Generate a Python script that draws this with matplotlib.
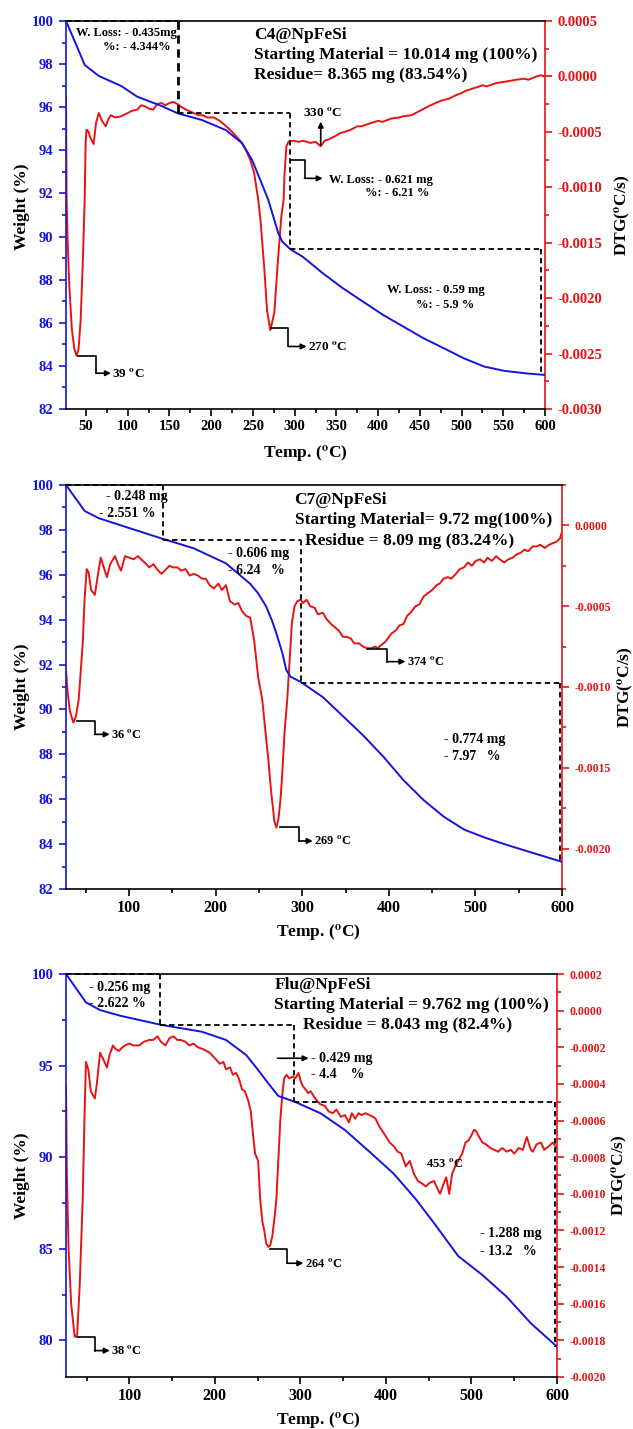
import matplotlib
matplotlib.use('Agg')
import matplotlib.pyplot as plt
from matplotlib.ticker import MultipleLocator, FuncFormatter

plt.rcParams['font.family'] = ['Liberation Serif', 'DejaVu Serif']
plt.rcParams['font.weight'] = 'bold'
plt.rcParams['axes.labelweight'] = 'bold'
plt.rcParams['mathtext.fontset'] = 'stix'

BLUE = '#1414dc'
RED = '#e61414'
DEG = '$^{\\mathbf{o}}$'

# ---- C4@NpFeSi ----
c4_temp = [26, 38.7, 48.4, 65.3, 91.9, 111.3, 140.3, 159.6, 188.6, 217.6, 236.9, 249.0,
           258.7, 268.4, 275.6, 280.4, 285.3, 294.9, 309.4, 333.6, 357.8, 381.9, 406.1,
           430.3, 454.5, 478.6, 502.8, 526.9, 551.1, 575.3, 599.5]
c4_weight = [100.0, 98.85, 97.96, 97.45, 96.99, 96.49, 96.06, 95.72, 95.41, 94.94, 94.33, 93.55,
             92.63, 91.7, 90.77, 90.15, 89.76, 89.41, 89.07, 88.3, 87.6, 86.98, 86.36,
             85.82, 85.28, 84.82, 84.35, 83.97, 83.77, 83.66, 83.58]
c4_dtg_temp = [26, 26.7, 28, 30, 33, 36, 38.7, 41, 43.5, 46, 48.4, 49.5, 50.5, 53, 55, 59, 62,
               65.3, 69, 73.6, 77, 79.8, 85, 91.9, 100, 105, 111.3, 116, 120.9, 125, 130.6,
               135, 140.3, 145, 150, 154.8, 159.6, 165, 170, 178.9, 185, 190, 195, 203.1, 210,
               215, 222.4, 230, 236.9, 242, 246.6, 251.4, 256.3, 258.7, 263.5, 266.9, 270.8,
               275.6, 279.4, 283.9, 286.8, 287.7, 290.1, 292.5, 298, 304.6, 310, 319.1, 325,
               331.2, 336, 340, 348.1, 355, 360, 367.5, 375, 380, 391.6, 400, 405, 415.8, 425,
               430, 440, 450, 460, 469, 475, 485, 493.1, 500, 505, 517.3, 525, 530, 541.5, 550,
               565.6, 575, 580, 589.8, 595, 599.5]
c4_dtg = [-0.00018, -0.0011, -0.0015, -0.0019, -0.00228, -0.00246, -0.00252, -0.00246, -0.0022,
          -0.0017, -0.0011, -0.0006, -0.00048, -0.0005, -0.00055, -0.00061, -0.00042,
          -0.00033, -0.0004, -0.00045, -0.00038, -0.00035, -0.00037, -0.00036, -0.00033,
          -0.00031, -0.0003, -0.00026, -0.00027, -0.00029, -0.0003, -0.00025, -0.00024,
          -0.00026, -0.00024, -0.00023, -0.00025, -0.00028, -0.0003, -0.00033, -0.00035,
          -0.00035, -0.00037, -0.00037, -0.0004, -0.00043, -0.00048, -0.00054, -0.0006,
          -0.00067, -0.00075, -0.00087, -0.00111, -0.00127, -0.00172, -0.00211, -0.00229,
          -0.00213, -0.00172, -0.00127, -0.00111, -0.0009, -0.00063, -0.00059, -0.00058,
          -0.00059, -0.00058, -0.0006, -0.00059, -0.00063, -0.00058, -0.00057, -0.00054,
          -0.00051, -0.0005, -0.00048, -0.00045, -0.00045, -0.00042, -0.0004, -0.00041,
          -0.00038, -0.00037, -0.00036, -0.00035, -0.00031, -0.00027, -0.00024, -0.00022,
          -0.0002, -0.00017, -0.00015, -0.00013, -0.0001, -0.00008, -0.00009, -0.00006,
          -0.00005, -0.00003, -0.00002, -0.00003, 0.0, 0.00001, 0.0]
c4_steps_temp = [26, 159.6, 294.9, 594.6]
c4_steps_weight = [100.0, 95.72, 89.41, 83.58]

# ---- C7@NpFeSi ----
c7_temp = [27, 48.6, 64.9, 90.5, 137.2, 174.5, 211.7, 239.7, 249.0, 258.3, 265, 270, 277,
           281.4, 286.3, 297.9, 323.6, 346.9, 370.1, 393.5, 416.8, 440.1, 463.4, 486.7,
           510.0, 533.3, 556.6, 600]
c7_weight = [100.0, 98.84, 98.52, 98.2, 97.62, 97.18, 96.51, 95.6, 95.17, 94.58, 93.95, 93.39,
             92.5, 91.76, 91.46, 91.23, 90.55, 89.7, 88.85, 87.9, 86.85, 85.96, 85.22, 84.65,
             84.3, 84.0, 83.72, 83.21]
c7_dtg_temp = [27, 29, 31.5, 35.5, 38.5, 41.6, 44, 46.3, 48.5, 50.9, 53, 56, 60.3, 64, 67.2, 70,
               74.3, 78, 83.6, 87, 90.5, 95.2, 100, 105, 110, 113.9, 118, 123.2, 128, 132,
               137.2, 141, 146.5, 151, 155.8, 160, 165, 169.8, 174.5, 179.2, 184, 188.4, 193,
               197.8, 203, 207, 211.7, 216.4, 222, 226, 230.3, 235, 239.7, 244.3, 249, 253.7,
               258.3, 260.7, 264, 267.7, 270, 272.3, 274.7, 277, 279.3, 282.5, 285.3, 288, 291,
               294, 297.9, 301, 305, 309, 314.2, 318, 323.6, 328, 333, 337.5, 342, 346.9,
               351.5, 356, 360, 365.5, 370.1, 374.8, 379.5, 384, 387, 391.1, 396, 402.8, 408,
               412, 416.8, 421, 425, 430.8, 435, 440.1, 444.8, 450, 455, 458.7, 463, 468, 472,
               477.3, 482, 486.7, 491.3, 496, 500, 505.3, 510, 514, 519, 524, 528, 533.3, 538,
               543, 547.2, 552, 556.6, 561, 566, 570.6, 575, 580, 585, 589.2, 594, 597.6, 600]
c7_dtg = [-0.0009, -0.00104, -0.00115, -0.00122, -0.00118, -0.00108, -0.0009, -0.00073,
          -0.00045, -0.00027, -0.00029, -0.0004, -0.00043, -0.0003, -0.0002, -0.00025,
          -0.00032, -0.00024, -0.00019, -0.00024, -0.00028, -0.00019, -0.0002, -0.00021,
          -0.00019, -0.00021, -0.00023, -0.00026, -0.00024, -0.00027, -0.0003, -0.00028,
          -0.00025, -0.00026, -0.00026, -0.00028, -0.00027, -0.00031, -0.0003, -0.00031,
          -0.00033, -0.00033, -0.00037, -0.00039, -0.00036, -0.0004, -0.00037, -0.00047,
          -0.00049, -0.00048, -0.00053, -0.00056, -0.00057, -0.00071, -0.00094, -0.00108,
          -0.00132, -0.00145, -0.00165, -0.00183, -0.00187, -0.00182, -0.0017, -0.00152,
          -0.00129, -0.00108, -0.00083, -0.0006, -0.0005, -0.00047, -0.00046, -0.00048,
          -0.00046, -0.0005, -0.00051, -0.00055, -0.00054, -0.00058, -0.00061, -0.00063,
          -0.00065, -0.00069, -0.00069, -0.0007, -0.00073, -0.00073, -0.00075, -0.00076,
          -0.00076, -0.00075, -0.00076, -0.00074, -0.00072, -0.00067, -0.00065, -0.00062,
          -0.00061, -0.00056, -0.00054, -0.0005, -0.00049, -0.00044, -0.00042, -0.0004,
          -0.00037, -0.00036, -0.00033, -0.00032, -0.00033, -0.0003, -0.00027, -0.00026,
          -0.00023, -0.00025, -0.00022, -0.00021, -0.00023, -0.0002, -0.00022, -0.00019,
          -0.00021, -0.00023, -0.00021, -0.0002, -0.00018, -0.00017, -0.00015, -0.00016,
          -0.00013, -0.00013, -0.00012, -0.00014, -0.00012, -0.00011, -0.0001, -0.00008,
          -0.00004]
c7_steps_temp = [27, 139.5, 297.9, 597.6]
c7_steps_weight = [100.0, 97.55, 91.2, 83.21]

# ---- Flu@NpFeSi ----
flu_temp = [26, 49.3, 65.8, 90.4, 137.6, 184.7, 213.0, 236.5, 250.6, 262.4, 274.2, 293.2,
            323.8, 352.1, 380.7, 409.0, 435.0, 456.2, 484.5, 512.7, 541.1, 569.4, 600]
flu_weight = [100.0, 98.45, 98.03, 97.71, 97.22, 96.85, 96.4, 95.58, 94.76, 94.03, 93.34,
              93.03, 92.39, 91.48, 90.3, 89.1, 87.7, 86.4, 84.6, 83.57, 82.38, 80.93, 79.65]
flu_dtg_temp = [26, 27, 29, 32, 36.1, 39, 42, 45.5, 47.5, 49.3, 52, 55, 59.7, 62, 65.8, 69,
                73.8, 77, 80.9, 84, 88, 92, 95, 99.8, 105, 111.6, 117, 123.4, 128, 132.8, 137,
                142.2, 147, 151.7, 156, 160, 165.8, 170, 175, 180, 186, 190, 194.1, 198, 202,
                205.9, 210, 213, 217.7, 221, 224.7, 228, 231.8, 235, 238.9, 242, 244.9, 247,
                250.6, 253, 255.5, 257.7, 260, 262.4, 264.8, 267.2, 270, 271.9, 274.2, 276.5,
                279, 281, 283.7, 287, 290.8, 294, 297.8, 300, 302.5, 306, 309, 312, 316, 319.1,
                323, 328.5, 333, 337.9, 342, 347.4, 352, 356.8, 360, 364, 368, 371.2, 376,
                380.7, 385, 387.8, 392, 394.8, 399, 404.3, 409, 413.7, 418, 423.1, 427.9,
                432.6, 437.3, 441, 446.7, 451, 456.2, 460, 463.2, 467, 470.4, 474, 477.4, 481,
                484.5, 489.2, 493, 496.3, 500, 503, 505.7, 509, 512.7, 517, 522, 526.9, 531,
                536, 541.1, 546, 550, 555.2, 560, 564.6, 569.4, 571.7, 576, 581.2, 585, 590.5,
                595, 600]
flu_dtg = [-0.00041, -0.0009, -0.0013, -0.0016, -0.00178, -0.00177, -0.0015, -0.00103,
           -0.0006, -0.00028, -0.00032, -0.00044, -0.00048, -0.0004, -0.00023, -0.00026,
           -0.00031, -0.00024, -0.00019, -0.00021, -0.00022, -0.0002, -0.00019, -0.00018,
           -0.00019, -0.00019, -0.00017, -0.00016, -0.00016, -0.00014, -0.00017, -0.00019,
           -0.00015, -0.00014, -0.00016, -0.00016, -0.00017, -0.00019, -0.00018, -0.0002,
           -0.00021, -0.00022, -0.00023, -0.00025, -0.00027, -0.00029, -0.00028, -0.00032,
           -0.00031, -0.00035, -0.00034, -0.00037, -0.00043, -0.00044, -0.00049, -0.00055,
           -0.00069, -0.00078, -0.00082, -0.00103, -0.00115, -0.0012, -0.00127, -0.00129,
           -0.00128, -0.00123, -0.00112, -0.00103, -0.00082, -0.0006, -0.00045, -0.00037,
           -0.00035, -0.00037, -0.00036, -0.00037, -0.00034, -0.00038, -0.00041, -0.00043,
           -0.00045, -0.00044, -0.00047, -0.00049, -0.00051, -0.00052, -0.00055, -0.00056,
           -0.00054, -0.00058, -0.00057, -0.00061, -0.00056, -0.00059, -0.00056, -0.00057,
           -0.00056, -0.00057, -0.00058, -0.00059, -0.00063, -0.00065, -0.00068, -0.00072,
           -0.00074, -0.00077, -0.00078, -0.00085, -0.00082, -0.00089, -0.00093, -0.00094,
           -0.00096, -0.00094, -0.00093, -0.00097, -0.001, -0.00095, -0.00091, -0.001,
           -0.00089, -0.00085, -0.00082, -0.00078, -0.00072, -0.00071, -0.00068, -0.00065,
           -0.00066, -0.00069, -0.00072, -0.00073, -0.00075, -0.00076, -0.00077, -0.00075,
           -0.00077, -0.00076, -0.00078, -0.00075, -0.00076, -0.00069, -0.00076, -0.00077,
           -0.00073, -0.00072, -0.00076, -0.00074, -0.00072, -0.00075]
flu_steps_temp = [26, 136.1, 292.2, 597.6]
flu_steps_weight = [100.0, 97.2, 93.03, 79.65]


def dtg_fmt(v, pos):
    if abs(v) < 1e-9:
        return '0.0000'
    return '%.4f' % v


def style(ax, ax2, xlim, ylim, y2lim, xstep, ymaj, ymin, y2maj, y2min, fs_x, fs_y, fs_y2):
    ax.set_xlim(*xlim)
    ax.set_ylim(*ylim)
    ax2.set_ylim(*y2lim)
    ax.xaxis.set_major_locator(MultipleLocator(xstep))
    ax.xaxis.set_minor_locator(MultipleLocator(xstep / 2))
    ax.yaxis.set_major_locator(MultipleLocator(ymaj))
    ax.yaxis.set_minor_locator(MultipleLocator(ymin))
    ax2.yaxis.set_major_locator(MultipleLocator(y2maj))
    ax2.yaxis.set_minor_locator(MultipleLocator(y2min))
    ax2.yaxis.set_major_formatter(FuncFormatter(dtg_fmt))
    ax.xaxis.set_major_formatter(FuncFormatter(lambda v, p: '%d' % round(v)))
    ax.yaxis.set_major_formatter(FuncFormatter(lambda v, p: '%g' % v))

    ax.tick_params(axis='x', which='major', length=5, width=1.2, labelsize=fs_x, pad=3)
    ax.tick_params(axis='x', which='minor', length=3, width=1.2)
    ax.tick_params(axis='y', which='major', length=5, width=1.2, color=BLUE,
                   labelcolor=BLUE, labelsize=fs_y, pad=4)
    ax.tick_params(axis='y', which='minor', length=3, width=1.2, color=BLUE)
    ax2.tick_params(axis='y', which='major', length=5, width=1.2, color=RED,
                    labelcolor=RED, labelsize=fs_y2, pad=4)
    ax2.tick_params(axis='y', which='minor', length=3, width=1.2, color=RED)

    for s in ax.spines.values():
        s.set_linewidth(1.2)
    ax.spines['left'].set_color(BLUE)
    ax.spines['right'].set_visible(False)
    for k in ['left', 'top', 'bottom']:
        ax2.spines[k].set_visible(False)
    ax2.spines['right'].set_color(RED)
    ax2.spines['right'].set_linewidth(1.2)

    ax.set_xlabel('Temp. (' + DEG + 'C)', fontsize=12.5)
    ax.set_ylabel('Weight (%)', fontsize=12.5)
    ax2.set_ylabel('DTG(' + DEG + 'C/s)', fontsize=12.5)

    ax.set_zorder(ax2.get_zorder() + 1)
    ax.patch.set_visible(False)


def steps(ax, temps, weights, lw0=1.3):
    for i in range(len(temps) - 1):
        lw = lw0 if i == 0 else 1.3
        ax.plot([temps[i], temps[i + 1]], [weights[i], weights[i]], color='k',
                ls=(0, (3, 2)), lw=1.3, clip_on=False)
        ax.plot([temps[i + 1], temps[i + 1]], [weights[i], weights[i + 1]], color='k',
                ls=(0, (3, 2)), lw=lw, clip_on=False)


def arrow(ax, x0, y0, x1, y1):
    ax.annotate('', xy=(x1, y1), xytext=(x0, y0),
                arrowprops=dict(arrowstyle='-|>', color='k', lw=1.2, mutation_scale=8,
                                shrinkA=0, shrinkB=0))


def elbow(ax, x0, y0, x1, y1, x2, label=None, fs=9.5):
    ax.plot([x0, x1, x1], [y0, y0, y1], color='k', lw=1.2)
    arrow(ax, x1, y1, x2, y1)
    if label:
        ax.text(x2 + 1.5, y1, label, fontsize=fs, ha='left', va='center')


def txt(ax, x, y, s, fs):
    ax.text(x, y, s, fontsize=fs, ha='left', va='center')


fig = plt.figure(figsize=(6.33, 14.29), dpi=100)

# ---------------- panel 1 ----------------
ax = fig.add_axes([0.1043, 0.7138, 0.7567, 0.2715])
ax2 = ax.twinx()
ax.plot(c4_temp, c4_weight, color=BLUE, lw=1.4)
ax2.plot(c4_dtg_temp, c4_dtg, color=RED, lw=1.4)
style(ax, ax2, (26, 600), (82, 100), (-0.0030, 0.0005), 50, 2, 1, 0.0005, 0.00025,
      10.5, 10.5, 10.5)
ax.yaxis.set_label_coords(-0.076, 0.52)
ax2.yaxis.set_label_coords(1.142, 0.5)
ax.xaxis.set_label_coords(0.5, -0.088)
steps(ax, c4_steps_temp, c4_steps_weight, lw0=2.0)
txt(ax, 37.8, 99.43, 'W. Loss: - 0.435mg', 9)
txt(ax, 70.2, 98.81, '%: - 4.344%', 9)
txt(ax, 251.4, 99.35, 'C4@NpFeSi', 12.5)
txt(ax, 251.4, 98.42, 'Starting Material = 10.014 mg (100%)', 12.5)
txt(ax, 251.4, 97.5, 'Residue= 8.365 mg (83.54%)', 12.5)
ax.text(333, 95.75, '330 ' + DEG + 'C', fontsize=9.5, ha='center', va='center')
arrow(ax, 331.2, 94.25, 331.2, 95.33)
elbow(ax, 294.9, 93.55, 311.8, 92.7, 333.6)
txt(ax, 341, 92.63, 'W. Loss: - 0.621 mg', 9)
txt(ax, 384.3, 92.0, '%: - 6.21 %', 9)
txt(ax, 411, 87.52, 'W. Loss: - 0.59 mg', 9)
txt(ax, 444.8, 86.83, '%: - 5.9 %', 9)
elbow(ax, 40.2, 84.46, 62, 83.66, 79.8, '39 ' + DEG + 'C')
elbow(ax, 271.8, 85.75, 292.5, 84.9, 314.3, '270 ' + DEG + 'C')

# ---------------- panel 2 ----------------
ax = fig.add_axes([0.1043, 0.3779, 0.7836, 0.2827])
ax2 = ax.twinx()
ax.plot(c7_temp, c7_weight, color=BLUE, lw=1.4)
ax2.plot(c7_dtg_temp, c7_dtg, color=RED, lw=1.4)
style(ax, ax2, (27, 600), (82, 100), (-0.00225, 0.00025), 100, 2, 1, 0.0005, 0.00025,
      11.5, 10.5, 8.5)
ax.yaxis.set_label_coords(-0.073, 0.5)
ax2.yaxis.set_label_coords(1.108, 0.5)
ax.xaxis.set_label_coords(0.508, -0.082)
steps(ax, c7_steps_temp, c7_steps_weight)
txt(ax, 72.9, 99.48, '- 0.248 mg', 10)
txt(ax, 64.9, 98.74, '- 2.551 %', 10)
txt(ax, 214.1, 96.96, '- 0.606 mg', 10)
txt(ax, 214.1, 96.21, '- 6.24   %', 10)
txt(ax, 291, 99.33, 'C7@NpFeSi', 12.5)
txt(ax, 291, 98.44, 'Starting Material= 9.72 mg(100%)', 12.5)
txt(ax, 302.6, 97.5, 'Residue = 8.09 mg (83.24%)', 12.5)
elbow(ax, 374.8, 92.69, 397.3, 92.13, 419.1, '374 ' + DEG + 'C', 9)
txt(ax, 463.4, 88.64, '- 0.774 mg', 10)
txt(ax, 463.4, 87.9, '- 7.97   %', 10)
elbow(ax, 39.3, 89.48, 60.3, 88.89, 77.5, '36 ' + DEG + 'C', 9)
elbow(ax, 274.7, 84.77, 295.6, 84.14, 311.9, '269 ' + DEG + 'C', 9)

# ---------------- panel 3 ----------------
ax = fig.add_axes([0.1043, 0.0364, 0.7757, 0.2820])
ax2 = ax.twinx()
ax.plot(flu_temp, flu_weight, color=BLUE, lw=1.4)
ax2.plot(flu_dtg_temp, flu_dtg, color=RED, lw=1.4)
style(ax, ax2, (26, 600), (78, 100), (-0.0020, 0.0002), 100, 5, 2.5, 0.0002, 0.0001,
      11.5, 10.5, 8.5)
ax.yaxis.set_label_coords(-0.074, 0.5)
ax2.yaxis.set_label_coords(1.108, 0.5)
ax.xaxis.set_label_coords(0.513, -0.082)
steps(ax, flu_steps_temp, flu_steps_weight)
txt(ax, 52.6, 99.27, '- 0.256 mg', 10)
txt(ax, 52.6, 98.4, '- 2.622 %', 10)
txt(ax, 269.6, 99.4, 'Flu@NpFeSi', 12.5)
txt(ax, 269.6, 98.31, 'Starting Material = 9.762 mg (100%)', 12.5)
txt(ax, 302.5, 97.22, 'Residue = 8.043 mg (82.4%)', 12.5)
arrow(ax, 273.3, 95.4, 309.6, 95.4)
txt(ax, 312.9, 95.4, '- 0.429 mg', 10)
txt(ax, 312.9, 94.49, '- 4.4    %', 10)
txt(ax, 446.7, 89.67, '453 ' + DEG + 'C', 9)
txt(ax, 510, 85.85, '- 1.288 mg', 10)
txt(ax, 510, 84.84, '- 13.2   %', 10)
elbow(ax, 38.4, 80.2, 59.7, 79.44, 77.1, '38 ' + DEG + 'C', 9)
elbow(ax, 264.8, 84.97, 284.7, 84.21, 303.4, '264 ' + DEG + 'C', 9)

fig.savefig('out.png', dpi=100)
